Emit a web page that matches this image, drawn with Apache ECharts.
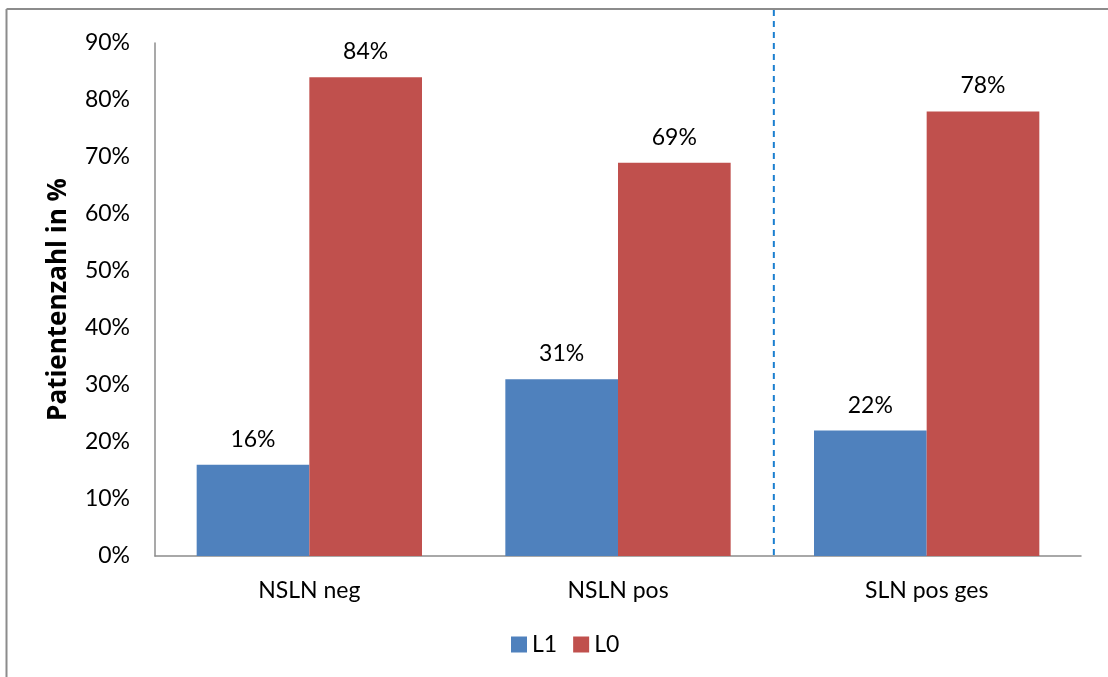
<!DOCTYPE html>
<html>
<head>
<meta charset="utf-8">
<script src="https://cdn.jsdelivr.net/npm/echarts@6/dist/echarts.min.js"></script>
<style>
  html,body{margin:0;padding:0;background:#fff;}
  #main{width:1108px;height:677px;}
</style>
</head>
<body>
<div id="main"></div>
<script>
var categories = ['NSLN neg', 'NSLN pos', 'SLN pos ges'];
var seriesNames = ['L1', 'L0'];
var l1Values = [16, 31, 22];
var l0Values = [84, 69, 78];
var yTicks = [0, 90, 10]; // min, max, interval
var dividerAt = 2; // boundary before third category (value axis units)

var chart = echarts.init(document.getElementById('main'));
var font = 'Lato, "Open Sans", sans-serif';

function barLabel(){
  return {show:true, position:'top', distance:14, color:'#000', fontSize:23, fontFamily:font,
    formatter:function(p){return p.value + '%';}};
}

chart.setOption({
  animation:false,
  grid:{left:155, right:27, top:43, bottom:121},
  legend:{
    data:seriesNames, bottom:16, left:506,
    icon:'rect', itemWidth:16, itemHeight:16, itemGap:16,
    textStyle:{fontSize:23, fontFamily:font, color:'#000'}
  },
  xAxis:[{
    type:'category', data:categories,
    axisLine:{lineStyle:{color:'#8c8c8c', width:1.5}},
    axisTick:{show:false},
    axisLabel:{color:'#000', fontSize:23, fontFamily:font, margin:23}
  },{
    type:'value', min:0, max:3, show:false
  }],
  yAxis:{
    type:'value', min:yTicks[0], max:yTicks[1], interval:yTicks[2],
    name:'Patientenzahl in %', nameLocation:'middle', nameGap:83, nameRotate:90,
    nameTextStyle:{fontSize:26, fontWeight:'bold', fontFamily:'"Open Sans", sans-serif', color:'#000'},
    axisLine:{show:true, lineStyle:{color:'#8c8c8c', width:1.5}},
    axisTick:{show:false},
    splitLine:{show:false},
    axisLabel:{color:'#000', fontSize:23, fontFamily:font, margin:25,
      formatter:function(v){return v + '%';}}
  },
  series:[{
    name:seriesNames[0], type:'bar', data:l1Values, barGap:'0%', barCategoryGap:'27%',
    itemStyle:{color:'#4F81BD'}, label:barLabel()
  },{
    name:seriesNames[1], type:'bar', data:l0Values, barGap:'0%', barCategoryGap:'27%',
    itemStyle:{color:'#C0504D'}, label:barLabel()
  }]
});

// divider line and chart frame
var dx = chart.convertToPixel({xAxisIndex:1}, dividerAt) + 1.5;
var baseY = chart.convertToPixel({yAxisIndex:0}, 0);
chart.setOption({
  graphic:[
    {type:'line', shape:{x1:dx, y1:10, x2:dx, y2:baseY}, style:{stroke:'#1b7fd0', lineWidth:2, lineDash:[6,5]}},
    {type:'line', shape:{x1:6.5, y1:9, x2:6.5, y2:677}, style:{stroke:'#8c8c8c', lineWidth:2}},
    {type:'line', shape:{x1:6.5, y1:9, x2:1108, y2:9}, style:{stroke:'#8c8c8c', lineWidth:2}}
  ]
});
</script>
</body>
</html>
